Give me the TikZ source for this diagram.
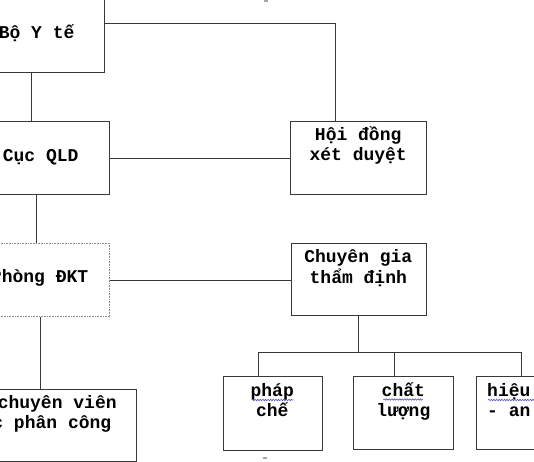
\documentclass[tikz,border=0pt]{standalone}
\usepackage{fontspec}
\setmonofont{Liberation Mono}
\usetikzlibrary{calc,decorations.pathmorphing}
\begin{document}
\begin{tikzpicture}[x=1bp,y=-1bp,
  box/.style={draw=black!78, line width=1.1bp, inner sep=0pt, anchor=north west},
  dotbox/.style={box, draw=black!45, dash pattern=on 0.8bp off 0.8bp},
  conn/.style={draw=black!78, line width=1bp},
  txt/.style={font=\ttfamily\bfseries\fontsize{18bp}{20.5bp}\selectfont, inner sep=0pt, align=center, anchor=base},
  txtl/.style={txt, align=left, anchor=base west},
  wavy/.style={draw=blue!60!black!70, line width=0.6bp, decorate, decoration={snake, amplitude=0.7bp, segment length=2.6bp}},
  handle/.style={fill=black!35, draw=none},
]
\useasboundingbox (0,0) rectangle (534,462);

% boxes
\node[box, minimum width=144bp,   minimum height=101.7bp] (byt)  at (-40,-30)    {};
\node[box, minimum width=148.7bp, minimum height=73.3bp]  (cuc)  at (-40,121)    {};
\node[box, minimum width=135.7bp, minimum height=73.3bp]  (hd)   at (290.3,121)  {};
\node[dotbox, minimum width=149.3bp, minimum height=73.6bp] (pdkt) at (-40,242.7) {};
\node[box, minimum width=135.3bp, minimum height=72.6bp]  (cg)   at (290.7,242.7) {};
\node[box, minimum width=176bp,   minimum height=71.7bp]  (cv)   at (-40,389.3)  {};
\node[box, minimum width=99bp,    minimum height=73.3bp]  (ph)   at (222.7,376.3) {};
\node[box, minimum width=99.7bp,  minimum height=73bp]    (cl)   at (353.3,376.3) {};
\node[box, minimum width=110bp,   minimum height=73bp]    (hq)   at (475.7,376)   {};

% texts (two-line nodes: anchor is the baseline of the last line)
\node[txt] (t-byt)  at (36.6,38.5)   {Bộ Y tế};
\node[txt] (t-cuc)  at (40.7,162)    {Cục QLD};
\node[txt] (t-hd)   at (358.2,161)   {Hội đồng\\xét duyệt};
\node[txt] (t-pdkt) at (39.6,282.7)  {Phòng ĐKT};
\node[txt] (t-cg)   at (358.3,283)   {Chuyên gia\\thẩm định};
\node[txt] (t-ph)   at (272.2,416.8) {pháp\\chế};
\node[txt] (t-cl)   at (403.3,416.8) {chất\\lượng};
\node[txtl] (t-hq)  at (487,416.5)   {hiệu\\- an};
\node[txtl] (t-cv)  at (-7.8,428.5)  {\hspace{0.3em}chuyên viên\\c phân công};

% connectors
\draw[conn] (byt.east |- 0,23.3) -| ($(hd.north west)+(45,0)$);
\draw[conn] (31.7,0 |- byt.south) -- (31.7,0 |- cuc.north);
\draw[conn] (cuc.east) -- (cuc.east -| hd.west);
\draw[conn] (36,0 |- cuc.south) -- (36,0 |- pdkt.north);
\draw[conn] (pdkt.east) -- (pdkt.east -| cg.west);
\draw[conn] (40.7,0 |- pdkt.south) -- (40.7,0 |- cv.north);
\coordinate (bus) at (358.3,352.3);
\draw[conn] (cg.south) -- (cg.south |- bus);
\draw[conn] ($(ph.north west)+(35.6,0)$) |- ($(hq.north west)+(45.3,-23.7)$) -- ($(hq.north west)+(45.3,0)$);
\draw[conn] ($(cl.north west)+(40.7,0)$) -- ($(cl.north west)+(40.7,-24)$);

% spell-check underlines
\draw[wavy] (251.7,400) -- (293.3,400);
\draw[wavy] (383.3,399.5) -- (422.7,399.5);
\draw[wavy] (488,400) -- (536,400);

% selection handles
\fill[handle] (263.5,0) rectangle (267.5,2.5);
\fill[handle] (263,456.5) rectangle (267,459);
\end{tikzpicture}
\end{document}
